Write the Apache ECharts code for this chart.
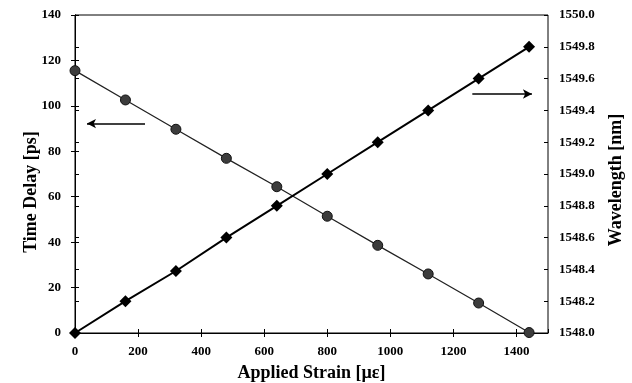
<!DOCTYPE html>
<html>
<head>
<meta charset="utf-8">
<script src="https://cdn.jsdelivr.net/npm/echarts@6/dist/echarts.min.js"></script>
<style>html,body{margin:0;padding:0;background:#fff}#c{width:632px;height:383px}</style>
</head>
<body>
<div id="c"></div>
<script>
const strain = [0, 160, 320, 480, 640, 800, 960, 1120, 1280, 1440];
const timeDelay = [115.5, 102.6, 89.7, 76.9, 64.4, 51.4, 38.6, 26.0, 13.2, 0.2];
const wavelength = [1548.0, 1548.2, 1548.39, 1548.6, 1548.8, 1549.0, 1549.2, 1549.4, 1549.6, 1549.8];
const xName = 'Applied Strain [µε]';
const yLeftName = 'Time Delay [ps]';
const yRightName = 'Wavelength [nm]';
const leftArrow = [[222, 92.2], [38, 92.2]];
const rightArrow = [[1260, 1549.503], [1449, 1549.503]];

const font = 'Liberation Serif';
const lab = {color:'#000', fontFamily:font, fontWeight:'bold', fontSize:13};
const nameStyle = {color:'#000', fontFamily:font, fontWeight:'bold', fontSize:18};
const line = {show:true, lineStyle:{color:'#000', width:1}};

const chart = echarts.init(document.getElementById('c'), null, {renderer:'canvas'});
chart.setOption({
  animation:false,
  backgroundColor:'#fff',
  grid:{left:75, right:84, top:15, bottom:50, outerBoundsMode:'none', containLabel:false,
        show:true, borderColor:'#000', borderWidth:1},
  xAxis:[
    {type:'value', min:0, max:1500, interval:200, position:'bottom',
     axisLine:line, splitLine:{show:false},
     axisTick:{show:true, inside:false, length:4, lineStyle:{color:'#000'}},
     axisLabel:Object.assign({margin:12, showMaxLabel:false, formatter:v=>String(v)}, lab),
     name:xName, nameLocation:'middle', nameGap:31, nameMoveOverlap:false, nameTextStyle:nameStyle},
    {type:'value', min:0, max:1500, interval:200, position:'bottom',
     axisLine:{show:false}, splitLine:{show:false},
     axisTick:{show:true, inside:true, length:4, lineStyle:{color:'#000'}},
     axisLabel:{show:false}}
  ],
  yAxis:[
    {type:'value', min:0, max:140, interval:20, position:'left',
     axisLine:line, splitLine:{show:false},
     axisTick:{show:true, inside:false, length:4, lineStyle:{color:'#000'}},
     axisLabel:Object.assign({margin:14}, lab),
     name:yLeftName, nameLocation:'middle', nameGap:35, nameRotate:90, nameMoveOverlap:false,
     nameTextStyle:Object.assign({padding:[0,36,0,0]}, nameStyle)},
    {type:'value', min:1548, max:1550, interval:0.2, position:'right',
     axisLine:line, splitLine:{show:false},
     axisTick:{show:true, inside:false, length:4, lineStyle:{color:'#000'}},
     axisLabel:Object.assign({margin:11, formatter:v=>v.toFixed(1)}, lab),
     name:yRightName, nameLocation:'middle', nameGap:59, nameRotate:90, nameMoveOverlap:false,
     nameTextStyle:Object.assign({padding:[0,12,0,0]}, nameStyle)},
    {type:'value', min:0, max:140, interval:20, position:'left',
     axisLine:{show:false}, splitLine:{show:false},
     axisTick:{show:true, inside:true, length:4, lineStyle:{color:'#000'}},
     axisLabel:{show:false}},
    {type:'value', min:1548, max:1550, interval:0.2, position:'right',
     axisLine:{show:false}, splitLine:{show:false},
     axisTick:{show:true, inside:true, length:4, lineStyle:{color:'#000'}},
     axisLabel:{show:false}}
  ],
  series:[
    {type:'line', name:yLeftName, xAxisIndex:0, yAxisIndex:0,
     data:strain.map((x,i)=>[x, timeDelay[i]]),
     symbol:'circle', symbolSize:10,
     lineStyle:{color:'#222', width:1.3},
     itemStyle:{color:'#3c3c3c', borderColor:'#111', borderWidth:1},
     markLine:{silent:true, symbol:['none','arrow'], symbolSize:[7,9],
       label:{show:false}, lineStyle:{color:'#000', width:1.5, type:'solid'},
       data:[[{coord:leftArrow[0]},{coord:leftArrow[1]}]]}},
    {type:'line', name:yRightName, xAxisIndex:0, yAxisIndex:1,
     data:strain.map((x,i)=>[x, wavelength[i]]),
     symbol:'diamond', symbolSize:12,
     lineStyle:{color:'#000', width:2},
     itemStyle:{color:'#000'},
     markLine:{silent:true, symbol:['none','arrow'], symbolSize:[7,9],
       label:{show:false}, lineStyle:{color:'#000', width:1.5, type:'solid'},
       data:[[{coord:rightArrow[0]},{coord:rightArrow[1]}]]}}
  ]
});
</script>
</body>
</html>
